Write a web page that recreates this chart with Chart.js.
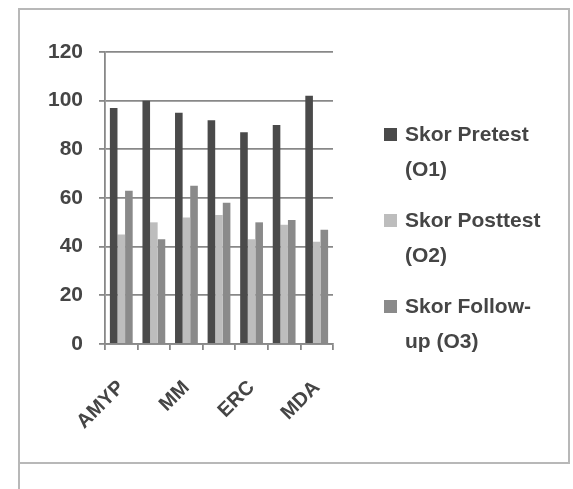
<!DOCTYPE html>
<html>
<head>
<meta charset="utf-8">
<script src="https://cdn.jsdelivr.net/npm/chart.js@4.4.0/dist/chart.umd.min.js"></script>
<style>
  html, body { margin: 0; padding: 0; background: #fff; }
  #wrap { width: 573px; height: 489px; }
</style>
</head>
<body>
<div id="wrap"><canvas id="myChart" width="573" height="489"></canvas></div>
<script>
// only every other name is printed in the original, the others are not readable
const categories = ['AMYP', '', 'MM', '', 'ERC', '', 'MDA'];
const pretest = [97, 100, 95, 92, 87, 90, 102];
const posttest = [45, 50, 52, 53, 43, 49, 42];
const followup = [63, 43, 65, 58, 50, 51, 47];
const seriesNames = [['Skor Pretest', '(O1)'], ['Skor Posttest', '(O2)'], ['Skor Follow-', 'up (O3)']];
const seriesColors = ['#4a4a4a', '#bdbdbd', '#8a8a8a'];
const yTicks = [0, 20, 40, 60, 80, 100, 120];

const textColor = '#454545';
const lineColor = '#888888';
const fontFamily = '"Liberation Sans", Arial, sans-serif';

// frame around the picture + the wrapped legend on the right
const framePlugin = {
    id: 'frame',
    beforeDraw(chart) {
        const c = chart.ctx;
        c.save();
        c.fillStyle = '#fff';
        c.fillRect(0, 0, chart.width, chart.height);
        c.strokeStyle = '#b8b8b8';
        c.lineWidth = 2;
        c.strokeRect(19, 9, 550, 454);
        c.beginPath();
        c.moveTo(19, 463);
        c.lineTo(19, 489);
        c.stroke();
        c.restore();
    },
    afterDraw(chart) {
        const c = chart.ctx;
        const left = chart.chartArea.right + 51;
        c.save();
        c.font = 'bold 21px ' + fontFamily;
        c.textBaseline = 'middle';
        chart.data.datasets.forEach((ds, i) => {
            const y = 135 + i * 86;
            c.fillStyle = ds.backgroundColor;
            c.fillRect(left, y - 7, 13, 13);
            c.fillStyle = textColor;
            seriesNames[i].forEach((line, j) => {
                c.fillText(line, left + 21, y + j * 35);
            });
        });
        c.restore();
    }
};

const ctx = document.getElementById('myChart').getContext('2d');
const myChart = new Chart(ctx, {
    type: 'bar',
    data: {
        labels: categories,
        datasets: [
            { label: seriesNames[0].join(' '), data: pretest, backgroundColor: seriesColors[0] },
            { label: seriesNames[1].join(' '), data: posttest, backgroundColor: seriesColors[1] },
            { label: seriesNames[2].join(' '), data: followup, backgroundColor: seriesColors[2] }
        ]
    },
    options: {
        responsive: false,
        animation: false,
        devicePixelRatio: 1,
        categoryPercentage: 0.7,
        barPercentage: 1.0,
        layout: {
            padding: { top: 52, right: 240, bottom: 45, left: 0 }
        },
        plugins: {
            legend: { display: false },
            tooltip: { enabled: false }
        },
        scales: {
            x: {
                ticks: {
                    autoSkip: false,
                    maxRotation: 45,
                    minRotation: 45,
                    color: textColor,
                    padding: 26,
                    font: { family: fontFamily, size: 20, weight: 'bold' }
                },
                grid: {
                    drawOnChartArea: false,
                    tickLength: 6,
                    color: lineColor,
                    lineWidth: 1.8
                },
                border: { color: lineColor, width: 1.8 },
                afterFit(scale) { scale.height = 100; }
            },
            y: {
                min: 0,
                max: 120,
                afterBuildTicks(scale) {
                    scale.ticks = yTicks.map(v => ({ value: v }));
                },
                ticks: {
                    color: textColor,
                    padding: 16,
                    font: { family: fontFamily, size: 21, weight: 'bold' }
                },
                grid: {
                    color: lineColor,
                    lineWidth: 1.8,
                    tickLength: 6
                },
                border: { color: lineColor, width: 1.8 },
                afterFit(scale) { scale.width = 105; }
            }
        }
    },
    plugins: [framePlugin]
});
</script>
</body>
</html>
